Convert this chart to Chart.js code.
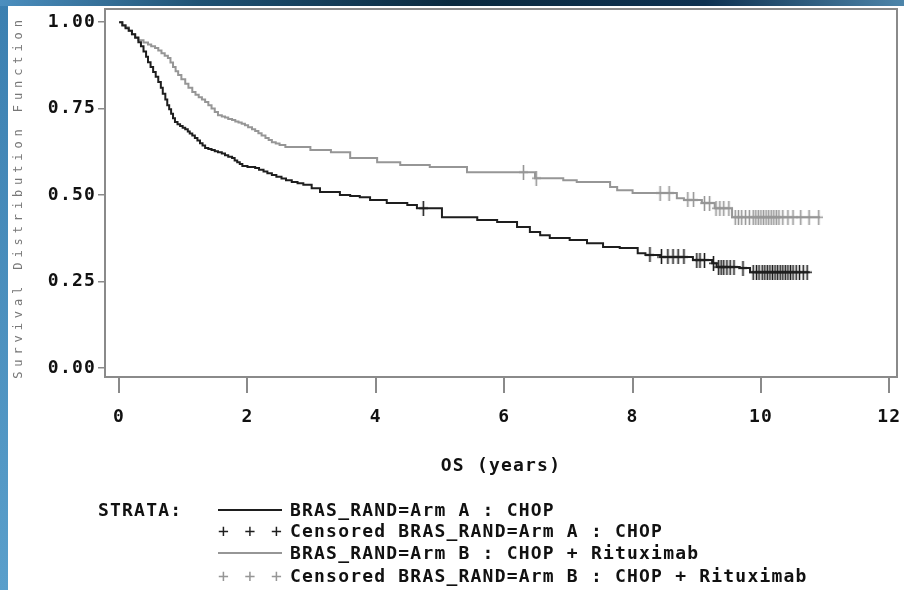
<!DOCTYPE html>
<html>
<head>
<meta charset="utf-8">
<script src="https://cdn.jsdelivr.net/npm/chart.js@4.4.1/dist/chart.umd.min.js"></script>
<style>
  body { margin: 0; background: #fff; }
  #wrap { position: relative; width: 904px; height: 590px; overflow: hidden; background: #fff; }
  #bandLeft { position: absolute; left: 0; top: 0; width: 8px; height: 590px; background: linear-gradient(#3b7fb0, #5a9fcb); }
  #bandTop { position: absolute; left: 0; top: 0; width: 904px; height: 6px;
    background: linear-gradient(90deg, #4c8fbf 0%, #1f5274 22%, #0b2a3f 50%, #0e3150 78%, #4d85aa 100%); }
  canvas { position: absolute; left: 0; top: 0; }
  .leg { position: absolute; font: bold 18px "DejaVu Sans Mono", monospace; letter-spacing: 1.2px;
    color: #111; white-space: pre; line-height: 18px; }
  .sample { position: absolute; left: 218px; width: 64px; }
</style>
</head>
<body>
<div id="wrap">
  <div id="bandLeft"></div>
  <div id="bandTop"></div>
  <canvas id="km" width="904" height="590"></canvas>
  <div id="legend"></div>
</div>
<script>
// Arm A : CHOP  (step times, survival after step)
const armATimes = [0, 0.05, 0.1, 0.15, 0.2, 0.25, 0.3, 0.34, 0.38, 0.42, 0.45, 0.49, 0.53, 0.57, 0.61, 0.65,
  0.68, 0.72, 0.75, 0.78, 0.81, 0.84, 0.87, 0.91, 0.95, 0.99, 1.03, 1.07, 1.1, 1.14, 1.18, 1.22, 1.26, 1.3,
  1.34, 1.39, 1.44, 1.49, 1.54, 1.6, 1.65, 1.7, 1.76, 1.8, 1.84, 1.88, 1.92, 2.0, 2.12, 2.18, 2.25, 2.31,
  2.38, 2.45, 2.53, 2.6, 2.69, 2.78, 2.87, 3.0, 3.13, 3.44, 3.6, 3.75, 3.91, 4.17, 4.49, 4.64, 5.03, 5.58,
  5.89, 6.2, 6.4, 6.56, 6.71, 7.02, 7.29, 7.54, 7.8, 8.08, 8.2, 8.43, 8.94, 9.24, 9.31, 9.67, 9.83];
const armASurv = [1.0, 0.99, 0.982, 0.975, 0.965, 0.955, 0.942, 0.93, 0.915, 0.9, 0.884, 0.87, 0.856, 0.842,
  0.827, 0.81, 0.793, 0.776, 0.76, 0.748, 0.735, 0.722, 0.711, 0.705, 0.7, 0.695, 0.69, 0.684, 0.678, 0.672,
  0.665, 0.658, 0.65, 0.643, 0.636, 0.633, 0.63, 0.627, 0.624, 0.62, 0.615, 0.611, 0.607, 0.6, 0.595, 0.59,
  0.584, 0.581, 0.578, 0.573, 0.568, 0.563, 0.558, 0.553, 0.548, 0.543, 0.538, 0.534, 0.53, 0.52, 0.509,
  0.5, 0.497, 0.494, 0.486, 0.477, 0.471, 0.462, 0.436, 0.428, 0.422, 0.408, 0.393, 0.384, 0.376, 0.37,
  0.361, 0.35, 0.347, 0.332, 0.327, 0.321, 0.312, 0.303, 0.292, 0.289, 0.277];
const armAEnd = 10.76;
const armACensT = [4.74, 8.27, 8.45, 8.55, 8.63, 8.71, 8.8, 9.0, 9.05, 9.12, 9.26, 9.34, 9.38, 9.42, 9.47,
  9.52, 9.58, 9.72, 9.88, 9.93, 9.97, 10.02, 10.06, 10.1, 10.14, 10.18, 10.22, 10.26, 10.3, 10.34, 10.38,
  10.42, 10.46, 10.5, 10.55, 10.6, 10.66, 10.72];
const armACensS = [0.462, 0.327, 0.321, 0.321, 0.321, 0.321, 0.321, 0.312, 0.312, 0.312, 0.303, 0.292, 0.292,
  0.292, 0.292, 0.292, 0.292, 0.289, 0.277, 0.277, 0.277, 0.277, 0.277, 0.277, 0.277, 0.277, 0.277, 0.277,
  0.277, 0.277, 0.277, 0.277, 0.277, 0.277, 0.277, 0.277, 0.277, 0.277];

// Arm B : CHOP + Rituximab
const armBTimes = [0, 0.05, 0.1, 0.15, 0.2, 0.25, 0.3, 0.38, 0.45, 0.5, 0.56, 0.61, 0.66, 0.71, 0.76, 0.8,
  0.84, 0.88, 0.92, 0.97, 1.03, 1.08, 1.14, 1.19, 1.24, 1.29, 1.34, 1.39, 1.44, 1.49, 1.54, 1.6, 1.65, 1.7,
  1.76, 1.81, 1.86, 1.91, 1.96, 2.01, 2.07, 2.12, 2.17, 2.22, 2.28, 2.33, 2.38, 2.44, 2.5, 2.59, 2.98, 3.3,
  3.6, 4.02, 4.38, 4.84, 5.42, 6.48, 6.92, 7.13, 7.65, 7.76, 8.0, 8.69, 8.8, 9.08, 9.28, 9.55];
const armBSurv = [1.0, 0.992, 0.985, 0.975, 0.965, 0.956, 0.948, 0.941, 0.935, 0.93, 0.925, 0.918, 0.91,
  0.903, 0.896, 0.883, 0.87, 0.858, 0.847, 0.835, 0.822, 0.81, 0.798, 0.79, 0.783, 0.776, 0.769, 0.76, 0.75,
  0.74, 0.731, 0.727, 0.724, 0.72, 0.717, 0.713, 0.71, 0.706, 0.702, 0.696, 0.69, 0.685, 0.679, 0.672,
  0.665, 0.659, 0.653, 0.649, 0.645, 0.639, 0.63, 0.624, 0.607, 0.595, 0.587, 0.581, 0.566, 0.549, 0.543,
  0.538, 0.523, 0.514, 0.506, 0.491, 0.486, 0.477, 0.462, 0.436];
const armBEnd = 10.92;
const armBCensT = [6.3, 6.5, 8.43, 8.57, 8.86, 8.95, 9.12, 9.2, 9.3, 9.36, 9.42, 9.5, 9.6, 9.65, 9.7, 9.76,
  9.82, 9.88, 9.92, 9.96, 10.0, 10.04, 10.08, 10.12, 10.16, 10.2, 10.24, 10.28, 10.34, 10.42, 10.5, 10.62,
  10.75, 10.9];
const armBCensS = [0.566, 0.549, 0.506, 0.506, 0.486, 0.486, 0.477, 0.477, 0.462, 0.462, 0.462, 0.462, 0.436,
  0.436, 0.436, 0.436, 0.436, 0.436, 0.436, 0.436, 0.436, 0.436, 0.436, 0.436, 0.436, 0.436, 0.436, 0.436,
  0.436, 0.436, 0.436, 0.436, 0.436, 0.436];

const xTicks = [0, 2, 4, 6, 8, 10, 12];
const yTicks = [0, 0.25, 0.5, 0.75, 1.0];
const xTitle = 'OS (years)';
const yTitle = 'Survival Distribution Function';
const legendHead = 'STRATA:';
const legendLabels = [
  'BRAS_RAND=Arm A : CHOP',
  'Censored BRAS_RAND=Arm A : CHOP',
  'BRAS_RAND=Arm B : CHOP + Rituximab',
  'Censored BRAS_RAND=Arm B : CHOP + Rituximab'
];

const colA = '#1e1e1e';
const colB = '#969696';

const stepPoints = (times, surv, end) => {
  const pts = times.map((t, i) => ({ x: t, y: surv[i] }));
  pts.push({ x: end, y: surv[surv.length - 1] });
  return pts;
};

const plusMark = (color) => {
  const c = document.createElement('canvas');
  c.width = 9; c.height = 15;
  const g = c.getContext('2d');
  g.strokeStyle = color;
  g.lineWidth = 1.6;
  g.beginPath();
  g.moveTo(4.5, 0); g.lineTo(4.5, 15);
  g.moveTo(0, 7.5); g.lineTo(9, 7.5);
  g.stroke();
  return c;
};

const spacing = {
  id: 'spacing',
  beforeDraw(chart) { chart.ctx.letterSpacing = '1.2px'; }
};

const frame = {
  id: 'frame',
  beforeDatasetsDraw(chart) {
    const { ctx, chartArea: a } = chart;
    ctx.save();
    ctx.strokeStyle = '#8a8a8a';
    ctx.lineWidth = 2;
    ctx.strokeRect(a.left, a.top, a.right - a.left, a.bottom - a.top);
    ctx.restore();
  }
};

const yTitleDraw = {
  id: 'yTitleDraw',
  afterDraw(chart) {
    const ctx = chart.ctx;
    ctx.save();
    ctx.translate(19, 197);
    ctx.rotate(-Math.PI / 2);
    ctx.letterSpacing = '4.9px';
    ctx.font = '12px "DejaVu Sans Mono"';
    ctx.fillStyle = '#777';
    ctx.textAlign = 'center';
    ctx.textBaseline = 'middle';
    ctx.fillText(yTitle, 0, 0);
    ctx.restore();
  }
};

const tickFont = { family: '"DejaVu Sans Mono", monospace', size: 18, weight: 'bold' };

new Chart(document.getElementById('km'), {
  type: 'scatter',
  data: {
    datasets: [
      { label: legendLabels[0], data: stepPoints(armATimes, armASurv, armAEnd), showLine: true, stepped: true,
        borderColor: colA, borderWidth: 2, pointRadius: 0 },
      { label: legendLabels[1], data: armACensT.map((t, i) => ({ x: t, y: armACensS[i] })),
        pointStyle: plusMark(colA), pointRadius: 6 },
      { label: legendLabels[2], data: stepPoints(armBTimes, armBSurv, armBEnd), showLine: true, stepped: true,
        borderColor: colB, borderWidth: 2, pointRadius: 0 },
      { label: legendLabels[3], data: armBCensT.map((t, i) => ({ x: t, y: armBCensS[i] })),
        pointStyle: plusMark(colB), pointRadius: 6 }
    ]
  },
  options: {
    responsive: false,
    animation: false,
    devicePixelRatio: 1,
    layout: { padding: { left: 0, top: 9, right: 7, bottom: 112 } },
    plugins: { legend: { display: false }, tooltip: { enabled: false } },
    scales: {
      x: {
        type: 'linear', min: -0.22, max: 12.12,
        afterFit: (s) => { s.height = 101; s.paddingLeft = 0; s.paddingRight = 0; },
        afterBuildTicks: (s) => { s.ticks = xTicks.map(v => ({ value: v })); },
        grid: { drawOnChartArea: false, drawTicks: true, tickLength: 16, color: '#8a8a8a', lineWidth: 2 },
        border: { display: false },
        ticks: { font: tickFont, color: '#111', padding: 14, maxRotation: 0 },
        title: { display: true, text: xTitle, font: tickFont, color: '#111', padding: { top: 0, bottom: 1.2 } }
      },
      y: {
        min: -0.026, max: 1.038,
        afterFit: (s) => { s.width = 105; s.paddingTop = 0; s.paddingBottom = 0; },
        afterBuildTicks: (s) => { s.ticks = yTicks.map(v => ({ value: v })); },
        grid: { drawOnChartArea: false, drawTicks: true, tickLength: 7, color: '#8a8a8a', lineWidth: 1.5 },
        border: { display: false },
        ticks: { font: tickFont, color: '#111', padding: 2, callback: (v) => v.toFixed(2) }
      }
    }
  },
  plugins: [spacing, frame, yTitleDraw]
});

// SAS style legend block under the plot
const legend = document.getElementById('legend');
const rowY = [510, 531, 553, 576];
const head = document.createElement('div');
head.className = 'leg';
head.style.left = '98px';
head.style.top = (rowY[0] - 9) + 'px';
head.textContent = legendHead;
legend.appendChild(head);
legendLabels.forEach((lab, i) => {
  const color = i < 2 ? colA : colB;
  const s = document.createElement('div');
  if (i % 2 === 0) {
    s.className = 'sample';
    s.style.top = (rowY[i] - 1) + 'px';
    s.style.borderTop = '2px solid ' + color;
  } else {
    s.className = 'leg sample';
    s.style.top = (rowY[i] - 9) + 'px';
    s.style.fontWeight = 'normal';
    s.style.letterSpacing = '2.4px';
    s.style.color = color;
    s.textContent = '+ + +';
  }
  legend.appendChild(s);
  const t = document.createElement('div');
  t.className = 'leg';
  t.style.left = '290px';
  t.style.top = (rowY[i] - 9) + 'px';
  t.textContent = lab;
  legend.appendChild(t);
});
</script>
</body>
</html>
